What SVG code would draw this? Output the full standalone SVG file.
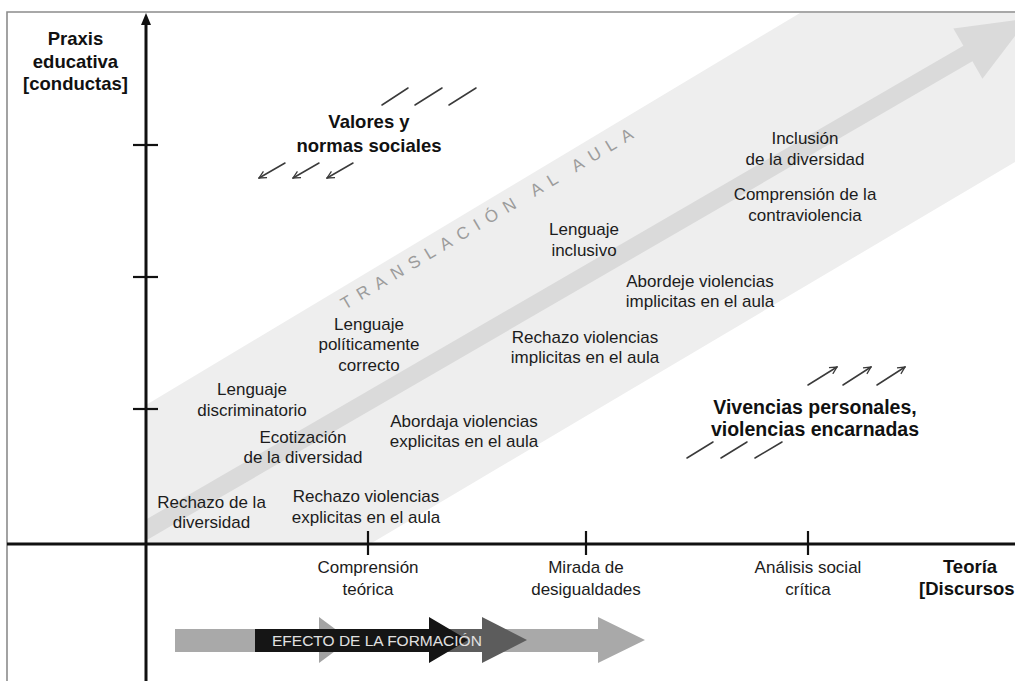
<svg xmlns="http://www.w3.org/2000/svg" width="1015" height="681" viewBox="0 0 1015 681">
<defs>
<style>
.lbl{font-family:"Liberation Sans",Arial,sans-serif;font-size:17px;fill:#1c1c1c;text-anchor:middle}
.bold{font-family:"Liberation Sans",Arial,sans-serif;font-size:18.5px;font-weight:bold;fill:#111;text-anchor:middle}
.axis{stroke:#111;stroke-width:3;fill:none}
.tick{stroke:#111;stroke-width:2.2}
.deco{stroke:#3a3a3a;stroke-width:1.5;fill:none;stroke-linecap:round}
</style>
<marker id="ah" viewBox="0 0 10 10" refX="9" refY="5" markerWidth="9" markerHeight="9" markerUnits="userSpaceOnUse" orient="auto">
<path d="M1,1 L9,5 L1,9" fill="none" stroke="#3a3a3a" stroke-width="1.4"/>
</marker>
<clipPath id="plot"><rect x="146" y="13" width="869" height="531"/></clipPath>
</defs>
<rect width="1015" height="681" fill="#fff"/>
<path d="M7,681 V12 H1015" fill="none" stroke="#8c8c8c" stroke-width="1.6"/>
<g id="band" clip-path="url(#plot)">
<polygon points="146,405 800,13 1015,13 1015,162 370,544 146,544" fill="#eeeeee"/>
<g transform="translate(146,530) rotate(-30.1)">
<polygon points="-30,-9 950,-9 950,-29 1020,0 950,29 950,9 -30,9" fill="#dadada"/>
</g>
<text x="345" y="310" transform="rotate(-30.8 345 310)" font-family="Liberation Sans,Arial,sans-serif" font-size="17" letter-spacing="8" fill="#9c9c9c">TRANSLACIÓN AL AULA</text>
</g>
<g id="axes">
<line class="axis" x1="146" y1="681" x2="146" y2="22"/>
<polygon points="146,13 141,25 151,25" fill="#111"/>
<line class="axis" x1="7" y1="544" x2="1015" y2="544"/>
<line class="tick" x1="133" y1="145" x2="158" y2="145"/>
<line class="tick" x1="133" y1="277" x2="158" y2="277"/>
<line class="tick" x1="133" y1="409" x2="158" y2="409"/>
<line class="tick" x1="368" y1="531" x2="368" y2="555"/>
<line class="tick" x1="586" y1="531" x2="586" y2="555"/>
<line class="tick" x1="808" y1="531" x2="808" y2="555"/>
</g>
<g id="axis-y-title"><text class="bold" x="75.5" y="45">Praxis</text><text class="bold" x="75.5" y="68">educativa</text><text class="bold" x="75.5" y="90">[conductas]</text></g>
<g id="axis-x-title"><text class="bold" x="970" y="573">Teoría</text><text class="bold" x="919" y="595" style="text-anchor:start">[Discursos</text></g>
<g id="valores"><text class="bold" x="369" y="128">Valores y</text><text class="bold" x="369" y="152">normas sociales</text></g>
<g id="vivencias"><text class="bold" x="815" y="414" style="font-size:19.5px">Vivencias personales,</text><text class="bold" x="815" y="436" style="font-size:19.5px">violencias encarnadas</text></g>
<g id="inclusion"><text class="lbl" x="805" y="144">Inclusión</text><text class="lbl" x="805" y="164.5">de la diversidad</text></g>
<g id="contraviolencia"><text class="lbl" x="805" y="200">Comprensión de la</text><text class="lbl" x="805" y="221">contraviolencia</text></g>
<g id="inclusivo"><text class="lbl" x="584" y="235">Lenguaje</text><text class="lbl" x="584" y="256">inclusivo</text></g>
<g id="abordeje"><text class="lbl" x="700" y="287">Abordeje violencias</text><text class="lbl" x="700" y="307">implicitas en el aula</text></g>
<g id="rechazo-implicitas"><text class="lbl" x="585" y="343">Rechazo violencias</text><text class="lbl" x="585" y="363">implicitas en el aula</text></g>
<g id="politicamente"><text class="lbl" x="369" y="330">Lenguaje</text><text class="lbl" x="369" y="350">políticamente</text><text class="lbl" x="369" y="371">correcto</text></g>
<g id="discriminatorio"><text class="lbl" x="252" y="395">Lenguaje</text><text class="lbl" x="252" y="416">discriminatorio</text></g>
<g id="ecotizacion"><text class="lbl" x="303" y="443">Ecotización</text><text class="lbl" x="303" y="463">de la diversidad</text></g>
<g id="abordaja"><text class="lbl" x="464" y="427">Abordaja violencias</text><text class="lbl" x="464" y="447">explicitas en el aula</text></g>
<g id="rechazo-diversidad"><text class="lbl" x="211.5" y="508">Rechazo de la</text><text class="lbl" x="211.5" y="528">diversidad</text></g>
<g id="rechazo-explicitas"><text class="lbl" x="366" y="502">Rechazo violencias</text><text class="lbl" x="366" y="523">explicitas en el aula</text></g>
<g id="comprension-teorica"><text class="lbl" x="368" y="573">Comprensión</text><text class="lbl" x="368" y="595">teórica</text></g>
<g id="mirada"><text class="lbl" x="586" y="573">Mirada de</text><text class="lbl" x="586" y="595">desigualdades</text></g>
<g id="analisis"><text class="lbl" x="808" y="573">Análisis social</text><text class="lbl" x="808" y="595">crítica</text></g>
<g id="efecto">
<polygon points="175,629 598,629 598,617 645,640 598,663 598,652 175,652" fill="#a9a9a9"/>
<polygon points="319,617 350,640 319,663" fill="#a3a3a3"/>
<polygon points="440,629 482,629 482,617 527,640 482,663 482,652 440,652" fill="#5c5c5c"/>
<polygon points="255,629 429,629 429,617 468,640 429,663 429,652 255,652" fill="#151515"/>
<text x="272" y="646" font-family="Liberation Sans,Arial,sans-serif" font-size="15.5" fill="#e0e0e0">EFECTO DE LA FORMACIÓN</text>
</g>
<g id="connectors">
<line class="deco" x1="382" y1="105" x2="408" y2="88"/>
<line class="deco" x1="415" y1="105" x2="442" y2="88"/>
<line class="deco" x1="449" y1="105" x2="476" y2="88"/>
<line class="deco" x1="285" y1="163" x2="259" y2="178" marker-end="url(#ah)"/>
<line class="deco" x1="319" y1="163" x2="293" y2="178" marker-end="url(#ah)"/>
<line class="deco" x1="353" y1="163" x2="327" y2="178" marker-end="url(#ah)"/>
<line class="deco" x1="808" y1="385" x2="837" y2="367" marker-end="url(#ah)"/>
<line class="deco" x1="843" y1="385" x2="871" y2="367" marker-end="url(#ah)"/>
<line class="deco" x1="877" y1="385" x2="905" y2="367" marker-end="url(#ah)"/>
<line class="deco" x1="687" y1="458" x2="713" y2="442"/>
<line class="deco" x1="721" y1="458" x2="747" y2="442"/>
<line class="deco" x1="755" y1="458" x2="782" y2="442"/>
</g>
</svg>
